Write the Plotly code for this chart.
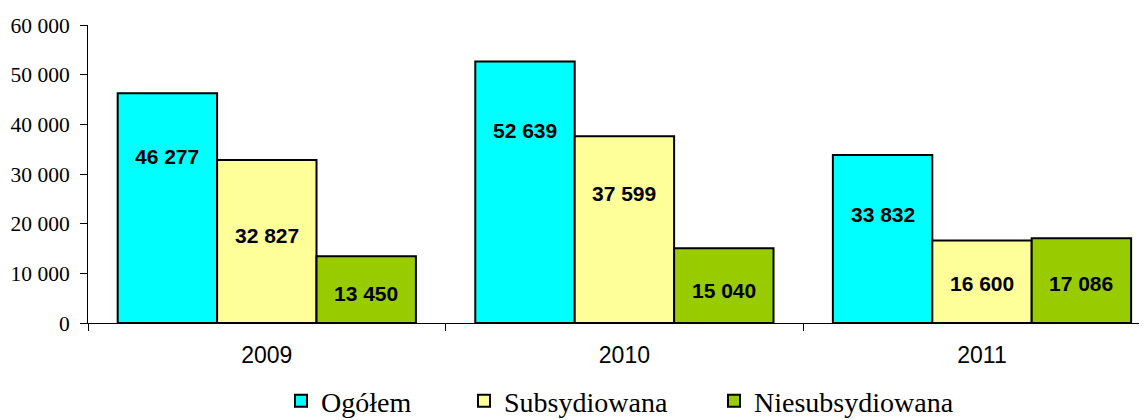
import plotly.graph_objects as go

years = ["2009", "2010", "2011"]
series_names = ["Ogółem", "Subsydiowana", "Niesubsydiowana"]
ogolem = [46277, 52639, 33832]
subsydiowana = [32827, 37599, 16600]
niesubsydiowana = [13450, 15040, 17086]
# label anchor heights (data units) as placed in the original
label_y_ogolem = [33480, 38660, 21750]
label_y_sub = [17580, 26110, 7990]
label_y_nie = [5840, 6500, 7990]

colors = ["#00FFFF", "#FFFF99", "#99CC00"]
values = [ogolem, subsydiowana, niesubsydiowana]
label_ys = [label_y_ogolem, label_y_sub, label_y_nie]

# page body has an 8px margin, so figure is sized to fit inside the window
W, H = 1139, 412
ml, mr, mt, mb = 80, 0, 17, 97
x_range = [-0.5, 2.4614]
bargap = 0.166
plot_w = W - ml - mr
plot_h = H - mt - mb
cat_px = plot_w / (x_range[1] - x_range[0])
bar_px = cat_px * (1 - bargap) / 3

fig = go.Figure()
legend_ids = ["legend", "legend2", "legend3"]
for i, (name, vals, col) in enumerate(zip(series_names, values, colors)):
    fig.add_trace(go.Bar(
        x=years, y=vals, name=name,
        marker=dict(color=col, line=dict(color="black", width=2)),
        legend=legend_ids[i],
    ))

def fmt(v):
    return f"{v:,}".replace(",", " ")

for i, (vals, lys) in enumerate(zip(values, label_ys)):
    for j, (v, ly) in enumerate(zip(vals, lys)):
        fig.add_annotation(
            x=j, y=ly, xref="x", yref="y", text=f"<b>{fmt(v)}</b>", showarrow=False,
            xshift=(i - 1) * bar_px,
            font=dict(family="Liberation Sans, Arial", size=21, color="black"),
        )

legend_font = dict(family="Liberation Serif, Times New Roman", size=28, color="black")
leg_x_px = [273, 456, 706]   # figure px of each legend box's left edge
leg_y_px = 393                # figure px of legend centre
layout_legends = {}
for lid, xp in zip(legend_ids, leg_x_px):
    layout_legends[lid] = dict(
        xref="container", yref="container",
        x=xp / W, xanchor="left",
        y=1 - leg_y_px / H, yanchor="middle",
        orientation="h", font=legend_font, bgcolor="rgba(0,0,0,0)",
        borderwidth=0, itemwidth=30,
    )

fig.update_layout(
    width=W, height=H,
    margin=dict(l=ml, r=mr, t=mt, b=mb, pad=0, autoexpand=False),
    paper_bgcolor="white", plot_bgcolor="white",
    barmode="group", bargap=bargap, bargroupgap=0,
    separators=", ",
    showlegend=True,
    **layout_legends,
    xaxis=dict(
        type="category", range=x_range, showline=True, linecolor="black", linewidth=1,
        ticks="outside", tickson="boundaries", ticklen=7, tickcolor="black", tickwidth=1,
        tickfont=dict(family="Liberation Sans, Arial", size=23, color="black"),
        ticklabelstandoff=11,
        showgrid=False, zeroline=False,
    ),
    yaxis=dict(
        range=[0, 60000], dtick=10000, tickformat=",d",
        showline=True, linecolor="black", linewidth=1,
        ticks="outside", ticklen=7, tickcolor="black", tickwidth=1,
        tickfont=dict(family="Liberation Serif, Times New Roman", size=21.5, color="black"),
        ticklabelstandoff=6,
        showgrid=False, zeroline=False,
    ),
)

fig.write_html("out.html")
